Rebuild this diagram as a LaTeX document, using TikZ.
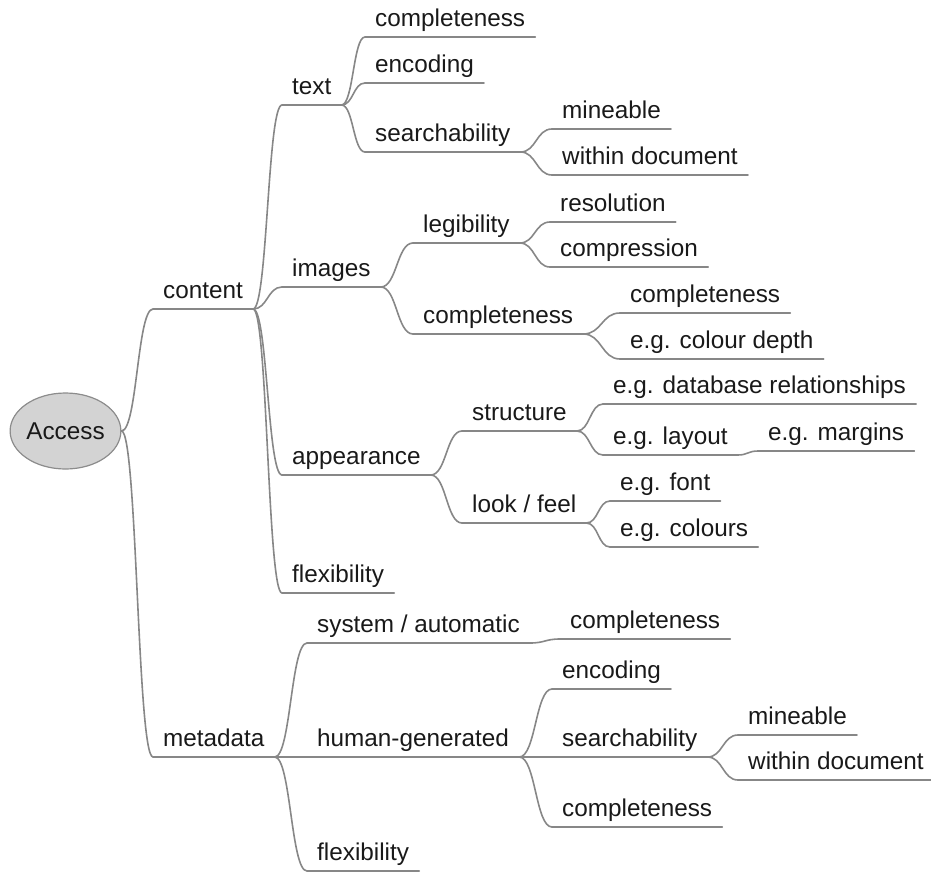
\documentclass[tikz,border=0pt]{standalone}
\usepackage{fontspec}
\setmainfont{Liberation Sans}
\usetikzlibrary{calc,shapes.geometric}
\definecolor{linegray}{RGB}{135,135,135}
\definecolor{txt}{RGB}{25,25,25}
\definecolor{rootfill}{RGB}{211,211,211}
\definecolor{rootdraw}{RGB}{140,140,140}
\newcommand\mmlink[2]{\draw[conn] let \p1=(#1),\p2=(#2) in (\p1) .. controls ({(\x1+\x2)/2},\y1) and ({(\x1+\x2)/2},\y2) .. (\p2);}
\begin{document}
\begin{tikzpicture}[x=1pt,y=-1pt,
  conn/.style={draw=linegray,line width=1.6pt,line cap=round},
  item/.style={anchor=south west,inner xsep=10pt,inner ysep=6pt,text height=18pt,text depth=4pt,text=txt,font=\fontsize{24.3}{29}\selectfont},
  rootnode/.style={ellipse,draw=rootdraw,fill=rootfill,line width=1.2pt,minimum width=105pt,minimum height=76pt,inner sep=0pt,text=txt,font=\fontsize{24.3}{29}\selectfont}]
\useasboundingbox (0,0) rectangle (931,873);
\node[rootnode] (root) at (65.5,431) {Access};
% level 1
\node[item] (content) at (153,309) {content};
\node[item] (metadata) at (153,757) {metadata};
% content children
\node[item] (ntext) at (282,105) {text};
\node[item] (images) at (282,287) {images};
\node[item] (appearance) at (282,475) {appearance};
\node[item] (flexa) at (282,593) {flexibility};
% text children
\node[item] (tcomp) at (365,37) {completeness};
\node[item] (tenc) at (365,83) {encoding};
\node[item] (tsearch) at (365,152) {searchability};
\node[item] (tmine) at (552,129) {mineable};
\node[item] (twithin) at (552,175) {within document};
% images children
\node[item] (legib) at (413,243) {legibility};
\node[item] (icomp) at (413,334) {completeness};
\node[item] (resol) at (550,222) {resolution};
\node[item] (compr) at (550,267) {compression};
\node[item] (icompb) at (620,313) {completeness};
\node[item] (cdepth) at (620,359) {e.g. colour depth};
% appearance children
\node[item] (struct) at (462,431) {structure};
\node[item] (look) at (462,523) {look / feel};
\node[item] (dbrel) at (603,404) {e.g. database relationships};
\node[item] (layout) at (603,455) {e.g. layout};
\node[item] (margins) at (758,451) {e.g. margins};
\node[item] (efont) at (610,501) {e.g. font};
\node[item] (colours) at (610,547) {e.g. colours};
% metadata children
\node[item] (sysauto) at (307,643) {system / automatic};
\node[item] (human) at (307,757) {human-generated};
\node[item] (flexb) at (307,871) {flexibility};
\node[item] (scomp) at (560,639) {completeness};
\node[item] (henc) at (552,689) {encoding};
\node[item] (hsearch) at (552,757) {searchability};
\node[item] (hcomp) at (552,827) {completeness};
\node[item] (hmine) at (738,735) {mineable};
\node[item] (hwithin) at (738,780) {within document};
% underlines
\foreach \n in {content,metadata,ntext,images,appearance,flexa,tcomp,tenc,tsearch,tmine,twithin,legib,icomp,resol,compr,icompb,cdepth,struct,look,dbrel,layout,margins,efont,colours,sysauto,human,flexb,scomp,henc,hsearch,hcomp,hmine,hwithin}
  \draw[conn] (\n.south west) -- (\n.south east);
% connectors
\mmlink{root.east}{content.south west}
\mmlink{root.east}{metadata.south west}
\foreach \c in {ntext,images,appearance,flexa} {\mmlink{content.south east}{\c.south west}}
\foreach \c in {tcomp,tenc,tsearch} {\mmlink{ntext.south east}{\c.south west}}
\foreach \c in {tmine,twithin} {\mmlink{tsearch.south east}{\c.south west}}
\foreach \c in {legib,icomp} {\mmlink{images.south east}{\c.south west}}
\foreach \c in {resol,compr} {\mmlink{legib.south east}{\c.south west}}
\foreach \c in {icompb,cdepth} {\mmlink{icomp.south east}{\c.south west}}
\foreach \c in {struct,look} {\mmlink{appearance.south east}{\c.south west}}
\foreach \c in {dbrel,layout} {\mmlink{struct.south east}{\c.south west}}
\mmlink{layout.south east}{margins.south west}
\foreach \c in {efont,colours} {\mmlink{look.south east}{\c.south west}}
\foreach \c in {sysauto,human,flexb} {\mmlink{metadata.south east}{\c.south west}}
\mmlink{sysauto.south east}{scomp.south west}
\foreach \c in {henc,hsearch,hcomp} {\mmlink{human.south east}{\c.south west}}
\foreach \c in {hmine,hwithin} {\mmlink{hsearch.south east}{\c.south west}}
\end{tikzpicture}
\end{document}
